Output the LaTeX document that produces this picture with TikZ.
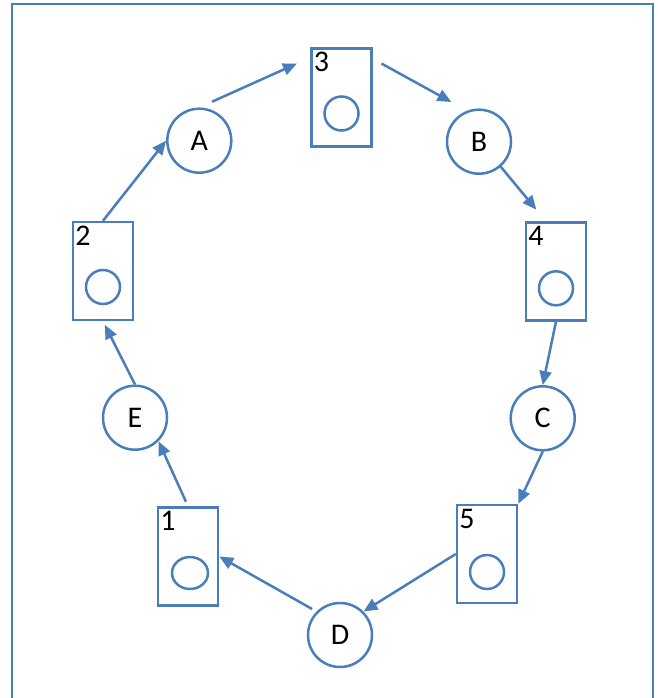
\documentclass[tikz,border=0pt]{standalone}
\usepackage{fontspec}
\setmainfont{Carlito}
\usetikzlibrary{arrows.meta,calc,shapes.geometric}
\definecolor{lineblue}{RGB}{74,126,187}
\begin{document}
\begin{tikzpicture}[x=1pt,y=-1pt,
  outline/.style={draw=lineblue,line width=2.5pt},
  slot/.style={outline,rectangle,minimum width=60pt,minimum height=98pt,inner sep=0pt},
  ring/.style={outline,circle,minimum size=64pt,inner sep=0pt,font=\fontsize{30}{36}\selectfont},
  pit/.style={outline,circle,minimum size=34pt,inner sep=0pt},
  tag/.style={anchor=north west,inner xsep=3.5pt,inner ysep=5pt,font=\fontsize{30}{36}\selectfont},
  flow/.style={draw=lineblue,line width=2.5pt,-{Triangle[length=14pt,width=12pt]}}]
\useasboundingbox (0,0) rectangle (657,698);

% open frame (bottom edge runs off the page)
\draw[outline] (12,700) -- (12,4) -- (653,4) -- (653,700);

% numbered slots
\node[slot] (b3) at (341.5,97.5) {};
\node[slot] (b2) at (103,271) {};
\node[slot] (b1) at (188,556.5) {};
\node[slot] (b4) at (556,271.3) {};
\node[slot] (b5) at (487,554) {};

\node[tag] (t3) at (b3.north west) {3};
\node[tag] (t2) at (b2.north west) {2};
\node[tag] (t1) at (b1.north west) {1};
\node[tag] (t4) at (b4.north west) {4};
\node[tag] (t5) at (b5.north west) {5};

\node[pit] (p3) at ($(b3.center)+(0,16)$) {};
\node[pit] (p2) at ($(b2.center)+(0,16)$) {};
\node[outline,ellipse,minimum width=36pt,minimum height=32pt,inner sep=0pt] (p1) at ($(b1.center)+(2,16.5)$) {};
\node[pit] (p4) at ($(b4.center)+(0,17)$) {};
\node[pit] (p5) at ($(b5.center)+(0,18)$) {};

% lettered stations
\node[ring] (A) at (199.3,140.7) {A};
\node[ring] (B) at (479,141.7) {B};
\node[ring] (C) at (542.7,418.3) {C};
\node[ring] (D) at (340,635) {D};
\node[ring] (E) at (135,417.7) {E};

% cycle of arrows
\draw[flow] (b2.north) -- (A.west);
\draw[flow,shorten <=14pt,shorten >=14.6pt] (A.north) -- ($(b3.north west)+(0,10.3)$);
\draw[flow,shorten <=9.9pt,shorten >=17.9pt] ($(b3.north east)+(0,11.5)$) -- (B.111);
\draw[flow,shorten >=14.8pt] (B.-49) -- ($(b4.north west)+(21,0)$);
\draw[flow] (b4.south) -- (C.north);
\draw[flow] (C.south) -- (b5.north east);
\draw[flow] (b5.west) -- (D.north east);
\draw[flow,shorten <=5pt] (D.north west) -- (b1.east);
\draw[flow,shorten <=5pt] (b1.north) -- (E.south east);
\draw[flow,shorten >=4pt] (E.north) -- (b2.south);
\end{tikzpicture}
\end{document}
